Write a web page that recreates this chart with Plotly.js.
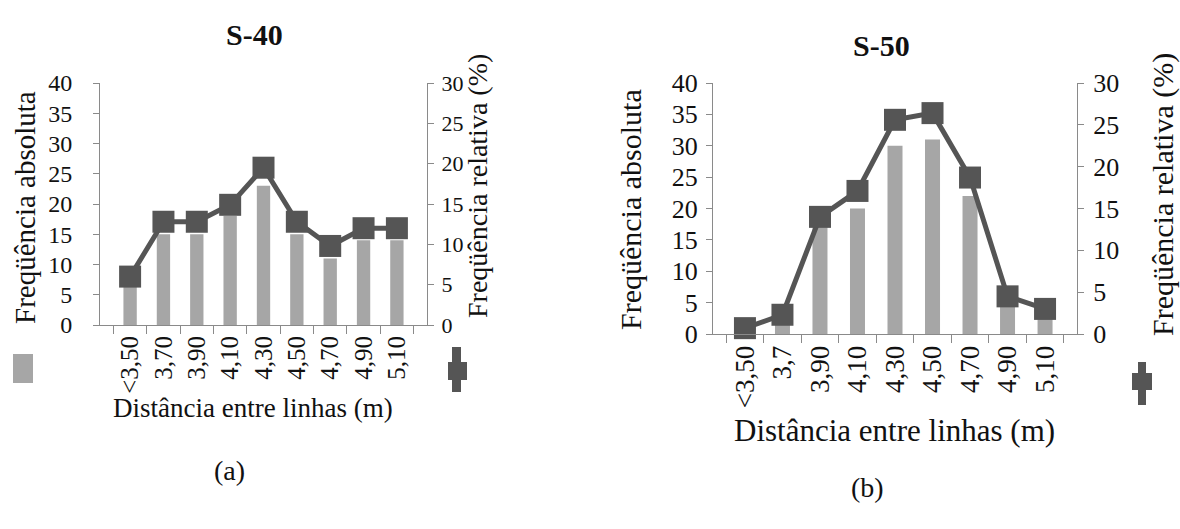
<!DOCTYPE html>
<html>
<head>
<meta charset="utf-8">
<script src="https://cdn.plot.ly/plotly-3.0.1.min.js"></script>
<style>html,body{margin:0;padding:0;background:#fff;}#chart{width:1180px;height:529px;}</style>
</head>
<body>
<div id="chart"></div>
<script>
// ---- data ----
var categoriesS40 = ['<3,50', '3,70', '3,90', '4,10', '4,30', '4,50', '4,70', '4,90', '5,10'];
var absoluteS40 = [7, 15, 15, 18, 23, 15, 11, 14, 14];
var relativeS40 = [6.0, 12.8, 12.8, 14.9, 19.5, 12.8, 9.8, 12.0, 12.0];

var categoriesS50 = ['<3,50', '3,7', '3,90', '4,10', '4,30', '4,50', '4,70', '4,90', '5,10'];
var absoluteS50 = [1, 2, 17, 20, 30, 31, 22, 5, 3];
var relativeS50 = [0.7, 2.3, 14.0, 17.1, 25.6, 26.4, 18.7, 4.5, 3.0];

var chartTitles = ['S-40', 'S-50'];
var panelLabels = ['(a)', '(b)'];
var xTitle = 'Distância entre linhas (m)';
var yTitleAbs = 'Freqüência absoluta';
var yTitleRel = 'Freqüência relativa (%)';

// ---- helpers ----
var W = 1180, H = 529;
function px(x) { return x / W; }
function py(y) { return 1 - y / H; }
var FONT = '"Liberation Serif"';
var BAR = '#a6a6a6', LINE = '#555555', AX = '#8a8a8a';

function xAxis(d0, d1, anchor, fs) {
  return {
    domain: [px(d0), px(d1)], anchor: anchor, type: 'category',
    tickson: 'boundaries', ticks: 'outside', ticklen: 8, tickcolor: AX,
    showline: true, linecolor: AX, linewidth: 1, showgrid: false, zeroline: false,
    tickangle: -90, tickfont: {family: FONT, size: fs, color: '#111'}, fixedrange: true
  };
}
function yAxis(top, bottom, anchor, maxv, side, overlay, fs, standoff) {
  var a = {
    domain: [py(bottom), py(top)], anchor: anchor, range: [0, maxv], dtick: 5,
    ticks: 'outside', ticklen: 6, tickcolor: AX, showline: true, linecolor: AX, linewidth: 1,
    showgrid: false, zeroline: false, side: side, ticklabelstandoff: standoff,
    tickfont: {family: FONT, size: fs, color: '#111'}, fixedrange: true
  };
  if (overlay) a.overlaying = overlay;
  return a;
}

var traces = [
  {type: 'bar', x: categoriesS40, y: absoluteS40, xaxis: 'x', yaxis: 'y',
   marker: {color: BAR}, width: 0.4},
  {type: 'scatter', mode: 'lines+markers', x: categoriesS40, y: relativeS40, xaxis: 'x', yaxis: 'y2',
   line: {color: LINE, width: 5}, marker: {symbol: 'square', size: 22, color: LINE}, cliponaxis: false},
  {type: 'bar', x: categoriesS50, y: absoluteS50, xaxis: 'x2', yaxis: 'y3',
   marker: {color: BAR}, width: 0.4},
  {type: 'scatter', mode: 'lines+markers', x: categoriesS50, y: relativeS50, xaxis: 'x2', yaxis: 'y4',
   line: {color: LINE, width: 5}, marker: {symbol: 'square', size: 22, color: LINE}, cliponaxis: false}
];

function ann(text, x, y, size, opts) {
  var a = {text: text, x: px(x), y: py(y), xref: 'paper', yref: 'paper',
    xanchor: 'center', yanchor: 'middle', showarrow: false,
    font: {family: FONT, size: size, color: '#111'}};
  for (var k in (opts || {})) a[k] = opts[k];
  return a;
}

var annotations = [
  ann('<b>' + chartTitles[0] + '</b>', 254, 35, 30),
  ann('<b>' + chartTitles[1] + '</b>', 881, 45, 30),
  ann(yTitleAbs, 25, 208, 29, {textangle: -90}),
  ann(yTitleRel, 477, 186, 28, {textangle: -90}),
  ann(xTitle, 253, 408, 27),
  ann(yTitleAbs, 630, 210, 30, {textangle: -90}),
  ann(yTitleRel, 1163, 195, 30, {textangle: -90}),
  ann(xTitle, 894, 430, 31),
  ann(panelLabels[0], 229, 470, 28),
  ann(panelLabels[1], 868, 487, 28)
];

function rect(x0, y0, x1, y1, color) {
  return {type: 'rect', xref: 'paper', yref: 'paper', x0: px(x0), x1: px(x1), y0: py(y1), y1: py(y0),
    fillcolor: color, line: {width: 0}};
}
var shapes = [
  rect(13, 354, 33, 383, BAR),
  rect(452, 347, 461, 392, LINE),
  rect(448, 362, 467, 380, LINE),
  rect(1138, 362, 1146, 405, LINE),
  rect(1132, 373, 1152, 390, LINE)
];

var layout = {
  width: W, height: H, margin: {l: 0, r: 0, t: 0, b: 0},
  paper_bgcolor: '#fff', plot_bgcolor: '#fff', showlegend: false,
  font: {family: FONT, color: '#111'},
  xaxis: xAxis(100, 427, 'y', 25),
  yaxis: yAxis(83, 325, 'x', 40, 'left', null, 24, 16),
  yaxis2: yAxis(83, 325, 'x', 30, 'right', 'y', 22, 3),
  xaxis2: xAxis(713, 1077, 'y3', 27),
  yaxis3: yAxis(83, 334, 'x2', 40, 'left', null, 26, 3),
  yaxis4: yAxis(83, 334, 'x2', 30, 'right', 'y3', 26, 4),
  annotations: annotations, shapes: shapes, bargap: 0.6
};

Plotly.newPlot('chart', traces, layout, {displayModeBar: false, staticPlot: true});
</script>
</body>
</html>
